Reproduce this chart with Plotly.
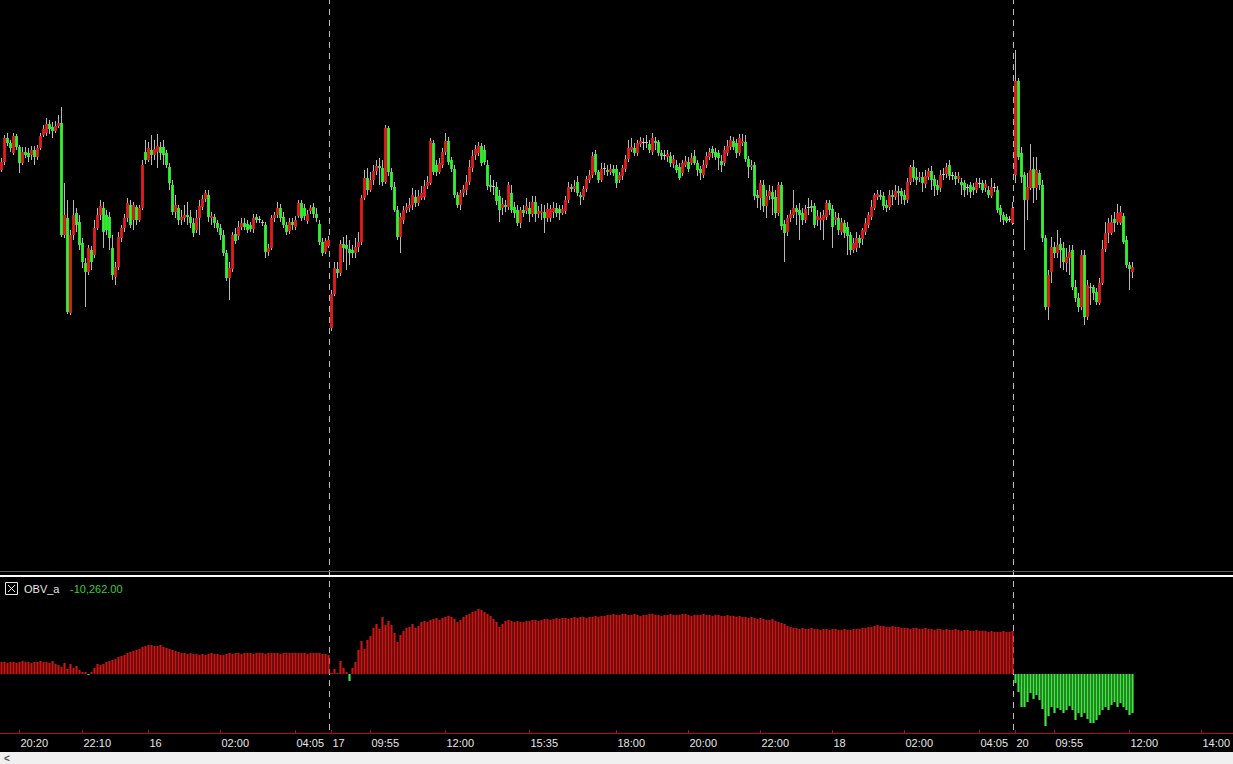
import plotly.graph_objects as go

# ---------------- data (5-minute bars, price units) ----------------
OPEN = [
    430, 438, 462, 457, 447, 464, 453, 437, 448, 447,
    445, 450, 443, 452, 465, 467, 476, 473, 469, 474,
    477, 365, 382, 287, 365, 387, 378, 357, 337, 328,
    350, 345, 372, 385, 392, 385, 383, 352, 323, 333,
    362, 372, 382, 395, 380, 393, 380, 392, 448, 440,
    450, 445, 448, 453, 453, 447, 433, 415, 388, 392,
    380, 382, 385, 383, 377, 370, 382, 393, 401, 405,
    382, 383, 377, 372, 365, 347, 322, 331, 366, 364,
    373, 377, 376, 375, 371, 383, 380, 377, 375, 348,
    352, 382, 385, 392, 383, 375, 369, 378, 373, 384,
    397, 392, 379, 389, 393, 386, 376, 358, 348, 354,
    272, 306, 331, 327, 356, 355, 351, 350, 347, 353,
    358, 402, 422, 410, 420, 429, 434, 432, 418, 472,
    428, 413, 390, 363, 380, 390, 392, 395, 403, 397,
    402, 403, 414, 417, 457, 435, 428, 435, 448, 459,
    440, 431, 405, 395, 407, 410, 418, 432, 445, 447,
    454, 450, 435, 415, 413, 413, 404, 392, 395, 393,
    407, 393, 390, 377, 390, 389, 392, 386, 398, 386,
    387, 388, 382, 382, 388, 392, 391, 387, 389, 400,
    413, 411, 418, 405, 403, 411, 420, 425, 446, 428,
    420, 431, 430, 428, 431, 431, 420, 424, 431, 441,
    450, 452, 447, 456, 457, 457, 456, 448, 459, 458,
    447, 444, 443, 444, 436, 435, 433, 427,
    435, 438, 437, 444, 437, 431, 425, 435, 443, 451,
    448, 447, 439, 437, 447, 453, 459, 457, 447, 457,
    458, 441, 433, 435, 405, 402, 415, 394, 404, 408,
    403, 387, 415, 376, 368, 382, 385, 392, 390, 387,
    380, 392, 394, 394, 380, 380, 380, 383, 397, 391,
    380, 382, 368, 377, 373, 365, 350, 352, 362, 361,
    368, 375, 383, 392, 403, 405, 404, 395, 393, 405,
    403, 409, 409, 405, 400, 418,
    433, 423, 422, 423, 416, 423, 429, 421, 415, 412,
    425, 426, 435, 424, 424, 421, 418, 417, 412, 415,
    413, 410, 416, 417, 412, 410, 404, 412, 410, 392,
    385, 383, 380, 377,
    425, 519, 447, 425, 400, 412, 431, 412, 427, 415,
    362, 293, 328, 353, 347, 356, 352, 337, 342, 350,
    313, 302, 293, 345, 283, 313, 313, 308, 297, 317,
    351, 367, 367, 381, 378, 377, 384, 360, 335, 328,
]
HIGH = [
    442, 465, 467, 460, 467, 466, 455, 453, 453, 452,
    454, 454, 455, 467, 475, 482, 480, 478, 479, 485,
    493, 417, 400, 370, 400, 392, 385, 362, 342, 355,
    354, 380, 392, 400, 398, 390, 388, 365, 338, 368,
    375, 386, 402, 400, 398, 395, 395, 440, 460, 458,
    465, 460, 466, 458, 460, 450, 437, 420, 405, 395,
    390, 395, 398, 390, 382, 390, 400, 405, 410, 410,
    388, 386, 380, 376, 370, 350, 338, 368, 372, 379,
    382, 382, 380, 378, 386, 386, 384, 380, 378, 356,
    385, 388, 398, 396, 388, 378, 382, 382, 384, 400,
    400, 396, 390, 395, 397, 392, 380, 362, 362, 364,
    310, 338, 338, 360, 363, 365, 360, 355, 362, 368,
    405, 430, 432, 428, 435, 440, 442, 440, 475, 474,
    432, 418, 394, 387, 394, 397, 402, 412, 410, 410,
    414, 420, 424, 462, 460, 440, 442, 452, 467, 463,
    443, 435, 408, 410, 415, 425, 440, 450, 455, 458,
    457, 455, 440, 425, 420, 418, 410, 402, 400, 418,
    415, 398, 395, 393, 395, 402, 398, 404, 404, 394,
    396, 395, 397, 395, 398, 397, 395, 395, 404, 418,
    416, 420, 424, 408, 414, 424, 430, 448, 450, 430,
    437, 437, 435, 436, 435, 435, 428, 435, 445, 460,
    462, 457, 460, 463, 462, 465, 460, 467, 463, 460,
    450, 450, 450, 448, 445, 440, 437, 440,
    444, 443, 447, 450, 440, 434, 440, 448, 452, 454,
    452, 450, 445, 454, 460, 464, 463, 461, 466, 466,
    465, 444, 440, 438, 410, 420, 420, 410, 415, 414,
    410, 418, 418, 380, 385, 390, 410, 395, 397, 392,
    395, 402, 400, 397, 390, 388, 390, 400, 400, 395,
    388, 387, 382, 380, 378, 368, 362, 368, 365, 372,
    382, 388, 400, 407, 410, 410, 408, 400, 410, 410,
    415, 414, 412, 410, 422, 435,
    440, 432, 428, 428, 430, 432, 434, 425, 420, 430,
    432, 437, 440, 428, 428, 428, 422, 420, 416, 418,
    417, 422, 422, 420, 420, 414, 422, 417, 414, 395,
    388, 386, 384, 398,
    550, 522, 453, 428, 427, 456, 443, 443, 430, 420,
    365, 330, 363, 358, 370, 362, 358, 352, 355, 355,
    320, 307, 350, 350, 320, 317, 315, 312, 322, 360,
    378, 382, 385, 388, 396, 394, 387, 364, 338, 338,
]
LOW = [
    428, 435, 454, 448, 445, 450, 427, 435, 442, 438,
    440, 435, 440, 450, 463, 464, 466, 462, 467, 472,
    363, 362, 286, 285, 360, 368, 350, 332, 293, 325,
    330, 342, 370, 380, 352, 365, 350, 320, 315, 330,
    358, 368, 378, 372, 370, 375, 378, 390, 436, 438,
    435, 440, 432, 440, 435, 432, 410, 385, 382, 375,
    375, 378, 375, 372, 363, 367, 365, 390, 398, 378,
    375, 372, 368, 360, 344, 319, 300, 328, 356, 360,
    370, 370, 367, 368, 367, 377, 377, 374, 342, 344,
    350, 378, 382, 378, 372, 365, 366, 370, 370, 382,
    379, 380, 376, 386, 382, 378, 355, 344, 346, 352,
    269, 304, 322, 324, 338, 330, 335, 342, 342, 348,
    355, 400, 405, 408, 415, 425, 415, 414, 416, 424,
    410, 388, 360, 347, 376, 387, 388, 390, 393, 394,
    400, 400, 411, 415, 425, 424, 426, 432, 445, 435,
    428, 402, 392, 390, 403, 405, 415, 428, 440, 444,
    434, 435, 410, 408, 405, 395, 378, 385, 388, 390,
    387, 382, 374, 372, 383, 386, 378, 383, 378, 382,
    380, 367, 378, 378, 382, 383, 380, 385, 386, 397,
    408, 408, 404, 395, 400, 408, 417, 422, 425, 417,
    418, 425, 424, 425, 424, 412, 417, 420, 428, 438,
    448, 444, 444, 453, 450, 452, 447, 445, 450, 444,
    440, 440, 438, 433, 432, 427, 420, 424,
    433, 428, 435, 435, 424, 420, 422, 432, 440, 442,
    440, 430, 428, 434, 444, 450, 450, 442, 444, 454,
    438, 422, 430, 400, 392, 390, 388, 382, 400, 385,
    382, 384, 370, 338, 364, 378, 382, 375, 360, 375,
    377, 385, 388, 372, 374, 370, 360, 380, 385, 352,
    375, 365, 365, 362, 345, 345, 347, 348, 352, 355,
    365, 372, 380, 390, 400, 400, 390, 388, 390, 395,
    400, 395, 396, 395, 397, 415,
    418, 415, 418, 408, 412, 420, 410, 404, 405, 408,
    420, 422, 420, 420, 415, 417, 405, 403, 405, 402,
    405, 407, 412, 407, 408, 402, 402, 408, 387, 378,
    375, 377, 378, 375,
    417, 440, 417, 350, 380, 410, 397, 400, 410, 358,
    290, 280, 317, 342, 342, 332, 330, 328, 325, 310,
    298, 288, 290, 275, 280, 295, 300, 295, 295, 315,
    348, 357, 365, 368, 375, 375, 356, 332, 310, 322,
]
CLOSE = [
    438, 462, 457, 452, 464, 453, 437, 448, 445, 443,
    450, 443, 452, 464, 471, 476, 471, 469, 474, 477,
    365, 385, 288, 365, 385, 375, 355, 338, 328, 352,
    338, 372, 385, 394, 368, 370, 362, 325, 333, 363,
    372, 382, 397, 375, 395, 380, 392, 435, 440, 452,
    445, 451, 454, 447, 445, 435, 417, 388, 395, 380,
    383, 385, 383, 377, 367, 382, 394, 401, 407, 383,
    384, 377, 372, 365, 347, 322, 332, 365, 359, 373,
    377, 373, 370, 371, 382, 380, 380, 377, 348, 352,
    382, 385, 392, 382, 375, 368, 378, 375, 380, 397,
    382, 384, 386, 392, 386, 382, 358, 347, 359, 360,
    306, 332, 327, 356, 352, 351, 347, 347, 353, 358,
    402, 422, 410, 420, 429, 434, 432, 418, 472, 428,
    413, 390, 363, 383, 390, 393, 395, 405, 397, 404,
    407, 414, 418, 459, 428, 428, 437, 448, 459, 438,
    431, 405, 395, 407, 411, 418, 433, 444, 451, 454,
    437, 438, 414, 413, 413, 399, 390, 396, 393, 415,
    390, 387, 377, 390, 387, 394, 386, 398, 386, 389,
    389, 382, 391, 391, 392, 387, 387, 391, 400, 413,
    411, 414, 407, 403, 411, 421, 425, 444, 428, 420,
    431, 431, 428, 431, 427, 417, 425, 432, 441, 452,
    453, 447, 457, 459, 457, 457, 450, 462, 457, 447,
    444, 444, 446, 437, 441, 430, 422, 437,
    439, 431, 442, 437, 430, 427, 435, 444, 448, 447,
    443, 442, 435, 450, 454, 460, 453, 447, 462, 459,
    441, 433, 435, 404, 402, 417, 394, 404, 409, 401,
    387, 415, 374, 367, 382, 386, 392, 388, 385, 380,
    391, 392, 392, 375, 384, 382, 385, 397, 390, 373,
    383, 370, 378, 367, 364, 350, 357, 362, 357, 370,
    377, 385, 393, 405, 406, 403, 394, 392, 405, 403,
    409, 407, 404, 400, 418, 433,
    422, 420, 423, 417, 424, 429, 420, 414, 410, 425,
    425, 433, 424, 424, 421, 424, 415, 410, 412, 408,
    410, 418, 416, 410, 416, 405, 413, 412, 390, 385,
    380, 379, 380, 392,
    519, 443, 423, 400, 413, 430, 412, 430, 415, 362,
    293, 325, 353, 347, 355, 350, 338, 343, 348, 313,
    302, 293, 345, 283, 315, 312, 307, 298, 317, 351,
    367, 377, 378, 377, 387, 388, 358, 335, 331, 333,
]
OBV = [
    3150, 3170, 2880, 3140, 3190, 2900, 3160, 3410, 3130, 3180,
    2870, 3150, 3170, 3430, 3140, 3160, 2910, 3400, 2640, 2350,
    1840, 2900, 1310, 2640, 1570, 2110, 1040, 520, 270, -250, 540, 1590, 2620,
    2370, 2630, 3160, 3420, 3680, 3950, 4470, 4730, 5000, 5520, 5790, 6050, 6310, 6580,
    7100, 7360, 7630, 7620, 7370, 7350, 7640, 7110, 6840, 6570, 6310, 6050,
    5790, 5520, 5530, 5260, 5510, 5270, 5250, 5000, 5260, 4990, 5270, 5520, 5260, 5250,
    5000, 4980, 5260, 5530,
    5260, 5520, 5530, 5250, 5520, 5530, 5510, 5260, 5520, 5540,
    5510, 5270, 5520, 5530, 5510, 5520, 5260, 5530, 5520, 5510,
    5540, 5520, 5530, 5510, 5520, 5260, 5520, 5530, 5510, 5520,
    5250, 5260, 4990,
    260, 1310, 80, 3420, 1580, 530, -1840, 1580, 3160, 6310,
    8680, 6580, 8940, 9990, 12100, 13150, 11840, 14990, 12890, 13940,
    12880, 10780, 8420, 10260, 11310, 12100, 12360, 13150, 12100, 12620,
    13680, 13940, 13670, 14200, 14470, 14730, 14210,
    14730, 14990, 15250, 14990, 14460, 13680, 14200, 14990, 15520, 15780,
    16310, 16570, 17100, 16830,
    16300, 15780, 15250, 14470, 13680,
    12360, 13150, 13940,
    14200, 13940, 13680, 13930, 13670,
    13680, 13940, 13930, 14200, 14210, 13940, 14200, 14470, 14460, 14210,
    14460, 14730, 14470, 14720, 14740, 14460, 14730, 14990, 14730, 15000,
    14990, 14720, 14990, 15000, 15250, 14990, 15260,
    15250, 15520, 15510, 15780, 15520, 15510, 15790, 15780, 15520, 15510,
    15780, 15520, 15250, 15510, 15520, 15790, 15780, 15520, 15510, 15260,
    15520, 15510, 15780, 15520, 15510, 15520, 15790, 15780, 15510, 15250,
    15520, 15510, 15520, 15780, 15510, 15520, 15260, 15510, 15520, 15250,
    15260, 15510, 15250, 15260, 14990, 15250, 15000, 14990, 14730, 14990,
    14720, 14470, 14730,
    14460, 14200, 14210, 14470, 13940, 13680, 13410, 13150, 12620, 12360,
    12100, 12090, 11830, 12100, 11840, 11830, 12090, 11840, 11830, 11570,
    11840, 11830, 11570, 11840, 11830, 11570, 11580, 11840, 11570, 11580,
    11830, 11840, 11830, 12100, 12090, 12360, 12370,
    12620, 12890, 12630, 12620, 12360, 12370, 12630, 12360, 12370, 12100,
    12100, 12090, 11840, 12100, 12090, 11830, 11840, 12100, 11830, 11840,
    11570, 11840, 11830, 11570, 11840, 11580, 11570, 11830, 11570, 11310,
    11570, 11580, 11310, 11320, 11570, 11310, 11320, 11310, 11050, 11310,
    11040, 11050, 11040, 11310, 11050, 11040, 11310,
    -2370, -4730, -8680, -8690, -7360, -5000, -6580, -5520, -6840, -9210,
    -13680, -11050, -8680, -10260, -8940, -9470, -10250, -9470, -8420, -9460,
    -12100, -10260, -11310, -10250, -11840, -12890, -12880, -12100, -10780, -9470,
    -8680, -9460, -8150, -7360, -8680, -7630, -8680, -9470, -10780, -10262,
]
OBV_NAME = "OBV_a"
TICK_BARS = [6, 27, 49, 73, 98, 110, 123, 148, 176, 205, 229, 253, 277, 301, 326,
             338, 351, 376, 400]
TICK_TEXT = ["20:20", "22:10", "16", "02:00", "04:05", "17", "09:55", "12:00", "15:35",
             "18:00", "20:00", "22:00", "18", "02:00", "04:05", "20", "09:55", "12:00",
             "14:00"]
SESSION_STARTS = [110, 338]

# ---------------- styling ----------------
W, H = 1233, 764
FONT = "Liberation Sans, Arial, sans-serif"
UP, DOWN, FLAT = "#e01c1c", "#33f033", "#d0d0d0"
WICK = "#b8b8b8"
OBV_UP, OBV_DN = "#cc1515", "#3fe83f"
AXIS_RED = "#b01010"

n = len(CLOSE)
assert len(OPEN) == len(HIGH) == len(LOW) == len(OBV) == n, (len(OPEN), len(HIGH), len(LOW), len(CLOSE), len(OBV))
idx = list(range(n))


def py(px):
    return 1 - px / H


body_base = [min(o, c) for o, c in zip(OPEN, CLOSE)]
body_len = [max(abs(c - o), 1) for o, c in zip(OPEN, CLOSE)]
body_col = [UP if c > o else (DOWN if c < o else FLAT) for o, c in zip(OPEN, CLOSE)]

fig = go.Figure()
# wicks
fig.add_trace(go.Bar(
    x=idx, base=LOW, y=[h - l for h, l in zip(HIGH, LOW)], width=0.3,
    marker=dict(color=WICK, line=dict(width=0)), xaxis="x", yaxis="y", hoverinfo="skip"))
# bodies
fig.add_trace(go.Bar(
    x=idx, base=body_base, y=body_len, width=0.95,
    marker=dict(color=body_col, line=dict(width=0)), xaxis="x", yaxis="y", hoverinfo="skip"))
# OBV histogram
fig.add_trace(go.Bar(
    x=idx, y=OBV, width=0.72,
    marker=dict(color=[OBV_UP if v >= 0 else OBV_DN for v in OBV], line=dict(width=0)),
    xaxis="x2", yaxis="y2", hoverinfo="skip"))

XR = [-0.5, -0.5 + W / 3]

shapes = []
for s in SESSION_STARTS:
    xs = s - 0.5 - 0.17
    shapes.append(dict(type="line", xref="x", yref="paper", x0=xs, x1=xs, y0=py(730), y1=1,
                       line=dict(color="#bdbdbd", width=1, dash="6px,5px"), layer="below"))
shapes += [
    dict(type="line", xref="paper", yref="paper", x0=0, x1=1, y0=py(571.5), y1=py(571.5),
         line=dict(color="#5c5c5c", width=1)),
    dict(type="line", xref="paper", yref="paper", x0=0, x1=1, y0=py(576), y1=py(576),
         line=dict(color="#ffffff", width=2)),
    dict(type="rect", xref="paper", yref="paper", x0=5.5 / W, x1=17.5 / W, y0=py(594.5), y1=py(582.5),
         line=dict(color="#e8e8e8", width=1)),
    dict(type="line", xref="paper", yref="paper", x0=8 / W, x1=15 / W, y0=py(585), y1=py(592),
         line=dict(color="#e8e8e8", width=1)),
    dict(type="line", xref="paper", yref="paper", x0=8 / W, x1=15 / W, y0=py(592), y1=py(585),
         line=dict(color="#e8e8e8", width=1)),
    dict(type="rect", xref="paper", yref="paper", x0=0, x1=1, y0=0, y1=py(752),
         line=dict(width=0), fillcolor="#f0f0f0", layer="above"),
]

annotations = [
    dict(text=OBV_NAME, xref="paper", yref="paper", x=22 / W, y=py(588.5), xanchor="left",
         yanchor="middle", showarrow=False, font=dict(family=FONT, size=11, color="#e6e6e6")),
    dict(text=f"{OBV[-1]:,.2f}", xref="paper", yref="paper", x=68 / W, y=py(588.5), xanchor="left",
         yanchor="middle", showarrow=False, font=dict(family=FONT, size=11, color="#3ccc3c")),
    dict(text="<b>&lt;</b>", xref="paper", yref="paper", x=3 / W, y=py(752), xanchor="left",
         yanchor="top", showarrow=False, borderpad=0,
         font=dict(family=FONT, size=10, color="#505050")),
]

fig.update_layout(
    width=W, height=H, margin=dict(l=0, r=0, t=0, b=0, pad=0),
    paper_bgcolor="black", plot_bgcolor="black", showlegend=False,
    barmode="overlay", bargap=0.2, hovermode=False,
    xaxis=dict(domain=[0, 1], range=XR, visible=False, anchor="y", fixedrange=True),
    yaxis=dict(domain=[py(574), 1], range=[26, 600], visible=False, anchor="x", fixedrange=True),
    xaxis2=dict(domain=[0, 1], range=XR, matches="x", anchor="y2", showline=True,
                linecolor=AXIS_RED, linewidth=1, ticks="inside", ticklen=3, tickcolor=AXIS_RED,
                tickwidth=1, tickmode="array", tickvals=TICK_BARS, ticktext=TICK_TEXT,
                ticklabelposition="outside right",
                tickfont=dict(family=FONT, size=11, color="#e6e6e6"),
                showgrid=False, zeroline=False, fixedrange=True),
    yaxis2=dict(domain=[py(733), py(578)], range=[-15517, 25248], visible=False,
                anchor="x2", fixedrange=True),
    shapes=shapes, annotations=annotations,
)

fig.write_html("out.html", config={"displayModeBar": False},
               post_script="document.body.style.margin='0px';document.body.style.overflow='hidden';")
